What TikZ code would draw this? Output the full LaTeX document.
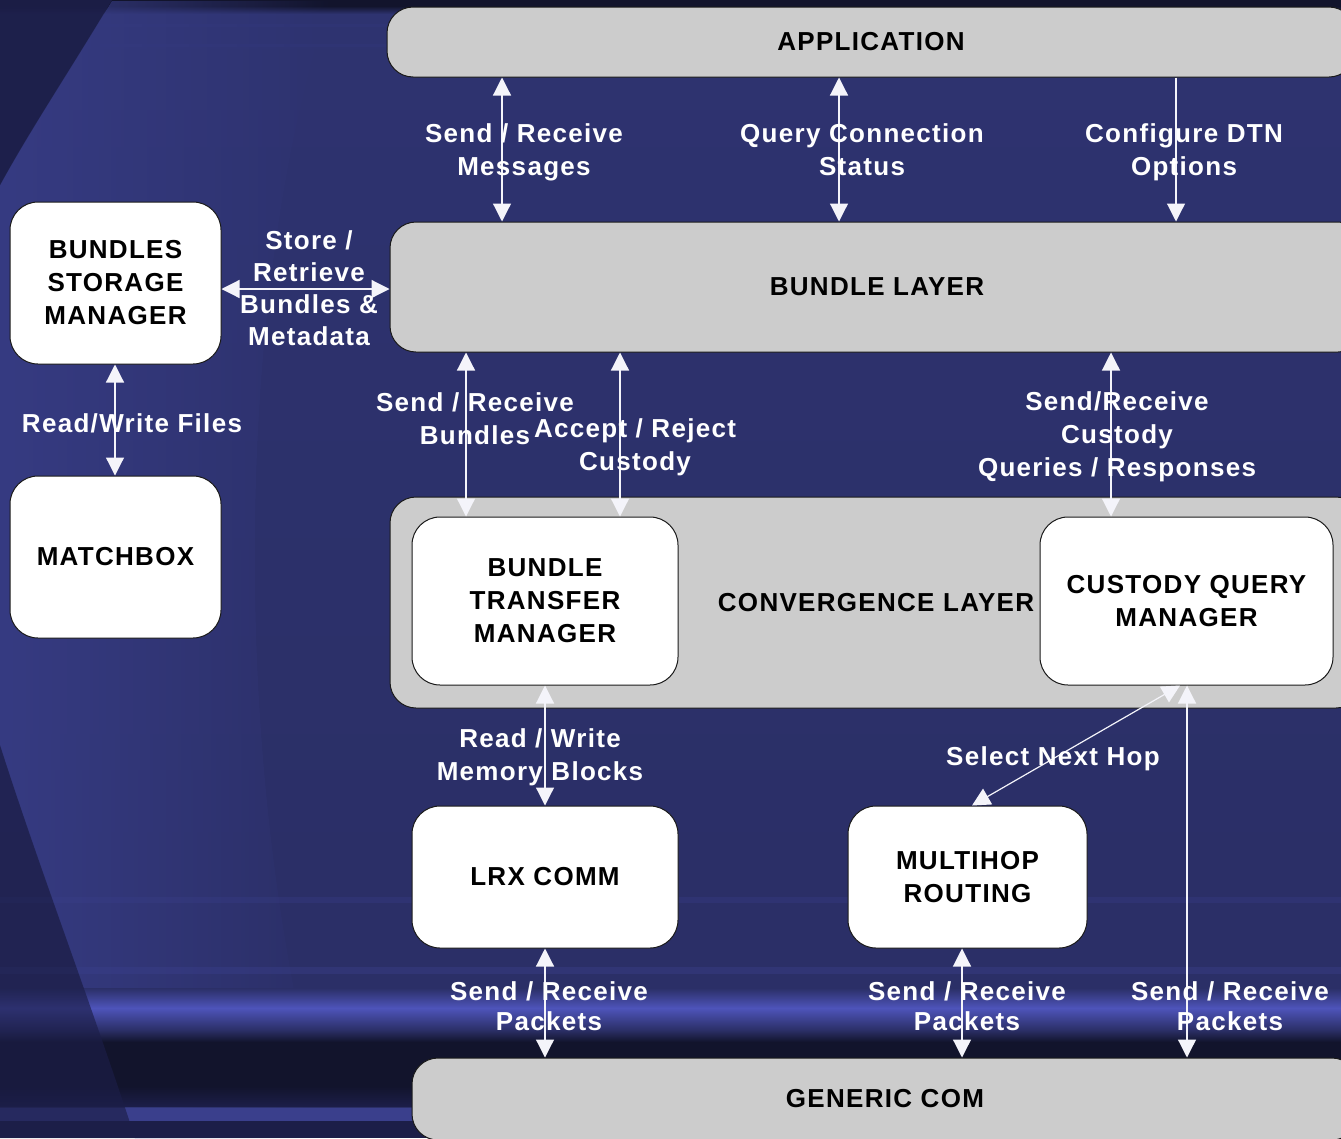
\documentclass[tikz,border=0pt]{standalone}
\usepackage{fontspec}
\setmainfont{Liberation Sans}
\newfontfamily\lblfont{Liberation Sans}[LetterSpace=5]
\usetikzlibrary{arrows.meta,fadings}
\definecolor{bg}{HTML}{2B2F67}
\definecolor{bgtop}{HTML}{2E3370}
\definecolor{darkband}{HTML}{12142C}
\definecolor{darkcorner}{HTML}{1C1E48}
\definecolor{lensc}{HTML}{363B82}
\definecolor{stripe}{HTML}{3A3F8C}
\definecolor{bright}{HTML}{4E54BA}
\definecolor{barfill}{HTML}{CCCCCC}
\definecolor{edge}{HTML}{1A1A1A}
\definecolor{arrowc}{HTML}{F4F4FA}
\newcommand\dgfont{\lblfont\bfseries\fontsize{26}{33}\selectfont}
\begin{document}
\begin{tikzpicture}[x=1pt,y=-1pt,
  graybar/.style={rectangle, rounded corners=26pt, fill=barfill, draw=edge, line width=1pt, font=\dgfont, text=black, inner sep=0pt},
  wbox/.style={rectangle, rounded corners=28pt, fill=white, draw=edge, line width=1pt, font=\dgfont, align=center, text=black, inner sep=0pt},
  lbl/.style={font=\dgfont, text=white, align=center, inner sep=0pt},
  arr/.style={draw=arrowc, line width=1.2pt, {Triangle[length=18pt,width=18pt]}-{Triangle[length=18pt,width=18pt]}},
  arrdown/.style={draw=arrowc, line width=1.2pt, -{Triangle[length=18pt,width=18pt]}}
]
\useasboundingbox (0,0) rectangle (1341,1138);
\begin{scope}
\clip (0,0) rectangle (1341,1138);
% ---------- background ----------
\fill[bg] (0,0) rectangle (1341,1138);
\shade[top color=bgtop, bottom color=bg] (0,0) rectangle (1341,880);
\fill[darkband] (0,0) rectangle (1341,6);
\shade[top color=darkband, bottom color=bgtop] (0,6) rectangle (1341,14);
\fill[stripe, opacity=0.15] (100,24) rectangle (900,27);
\fill[stripe, opacity=0.15] (100,44) rectangle (700,47);
% lens on the left, fading out to the right
\fill[lensc, path fading=east] (112,0) .. controls (70,70) and (30,130) .. (0,185) -- (0,745) .. controls (40,870) and (90,1000) .. (135,1138) -- (330,1138) .. controls (230,800) and (230,300) .. (330,0) -- cycle;
% bottom stripes
\fill[stripe, opacity=0.3] (0,897) rectangle (1341,903);
\fill[stripe, opacity=0.4] (0,967) rectangle (1341,974);
\shade[top color=bg, bottom color=bright] (0,988) rectangle (1341,1008);
\shade[top color=bright, bottom color=bg] (0,1008) rectangle (1341,1030);
\shade[top color=bg, bottom color=darkband] (0,1030) rectangle (1341,1042);
\fill[darkband] (0,1042) rectangle (1341,1086);
\shade[top color=darkband, bottom color=darkcorner] (0,1086) rectangle (1341,1106);
\fill[stripe] (0,1108) rectangle (1341,1121);
\fill[darkcorner] (0,1121) rectangle (1341,1138);
% dark corners
\fill[darkcorner, opacity=0.9] (0,0) -- (112,0) .. controls (70,70) and (30,130) .. (0,185) -- cycle;
\fill[darkcorner, opacity=0.65] (0,745) .. controls (40,870) and (90,1000) .. (135,1138) -- (0,1138) -- cycle;

% ---------- boxes ----------
\node[graybar, minimum width=968pt, minimum height=70pt] (app) at (871,42) {APPLICATION};
\node[graybar, minimum width=974pt, minimum height=130pt] (bl) at (877,287) {BUNDLE LAYER};
\node[graybar, minimum width=972pt, minimum height=211pt] (cl) at (876,602.5) {CONVERGENCE LAYER};
\node[graybar, minimum width=946pt, minimum height=82pt] (gc) at (885,1099) {GENERIC COM};
\node[wbox, minimum width=211pt, minimum height=162pt] (bsm) at (115.5,283) {BUNDLES\\STORAGE\\MANAGER};
\node[wbox, minimum width=211pt, minimum height=162pt] (mb) at (115.5,557) {MATCHBOX};
\node[wbox, minimum width=266pt, minimum height=168pt] (btm) at (545,601) {BUNDLE\\TRANSFER\\MANAGER};
\node[wbox, minimum width=293pt, minimum height=168pt] (cqm) at (1186.5,601) {CUSTODY QUERY\\MANAGER};
\node[wbox, minimum width=266pt, minimum height=142pt] (lrx) at (545,877) {LRX COMM};
\node[wbox, minimum width=239pt, minimum height=142pt] (mhr) at (967.5,877) {MULTIHOP\\ROUTING};

% ---------- connectors ----------
\draw[arr] (app.south -| 502,0) -- (bl.north -| 502,0);
\draw[arr] (app.south -| 839,0) -- (bl.north -| 839,0);
\draw[arrdown] (app.south -| 1176,0) -- (bl.north -| 1176,0);
\draw[arr] (bsm.east |- 0,289) -- (bl.west |- 0,289);
\draw[arr] (bsm.south -| 115,0) -- (mb.north -| 115,0);
\draw[arr] (bl.south -| 466,0) -- (btm.north -| 466,0);
\draw[arr] (bl.south -| 620,0) -- (btm.north -| 620,0);
\draw[arr] (bl.south -| 1111,0) -- (cqm.north -| 1111,0);
\draw[arr] (btm.south -| 545,0) -- (lrx.north -| 545,0);
\draw[arr] (cqm.south -| 1180,0) -- (mhr.north -| 972,0);
\draw[arr] (cqm.south -| 1187,0) -- (gc.north -| 1187,0);
\draw[arr] (lrx.south -| 545,0) -- (gc.north -| 545,0);
\draw[arr] (mhr.south -| 962,0) -- (gc.north -| 962,0);

% ---------- labels ----------
\node[lbl] (l1) at (524,152) {Send / Receive\\Messages};
\node[lbl] (l2) at (862,150) {Query Connection\\Status};
\node[lbl] (l3) at (1184,152) {Configure DTN\\Options};
\node[lbl, font=\lblfont\bfseries\fontsize{26}{32}\selectfont] (l4) at (309,288) {Store /\\Retrieve\\Bundles \&\\Metadata};
\node[lbl] (l5) at (132,423) {Read/Write Files};
\node[lbl] (l6) at (475,419) {Send / Receive\\Bundles};
\node[lbl] (l7) at (635,447) {Accept / Reject\\Custody};
\node[lbl] (l8) at (1117,437) {Send/Receive\\Custody\\Queries / Responses};
\node[lbl] (l9) at (540,757) {Read / Write\\Memory Blocks};
\node[lbl] (l10) at (1053,759) {Select Next Hop};
\node[lbl, font=\lblfont\bfseries\fontsize{26}{30}\selectfont] (l11) at (549,1006) {Send / Receive\\Packets};
\node[lbl, font=\lblfont\bfseries\fontsize{26}{30}\selectfont] (l12) at (967,1006) {Send / Receive\\Packets};
\node[lbl, font=\lblfont\bfseries\fontsize{26}{30}\selectfont] (l13) at (1230,1006) {Send / Receive\\Packets};
\end{scope}
\end{tikzpicture}
\end{document}
